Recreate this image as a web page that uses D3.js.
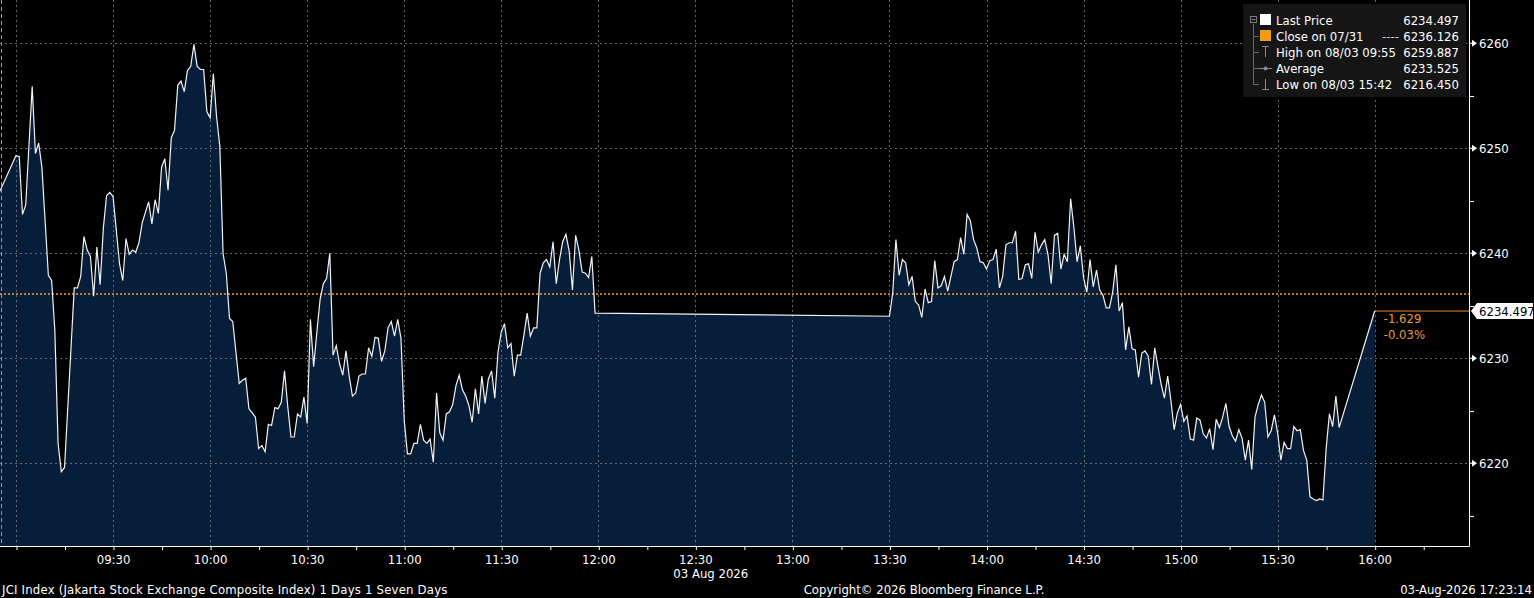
<!DOCTYPE html>
<html><head><meta charset="utf-8">
<script src="https://cdn.jsdelivr.net/npm/d3@7"></script>
<style>
html,body{margin:0;padding:0;background:#000;overflow:hidden}
svg{display:block}
text{font-family:"Liberation Sans Narrow","Arial Narrow","DejaVu Sans Condensed",sans-serif;font-size:13px;}
</style></head><body>
<svg id="c" width="1534" height="598"></svg>
<script>
// ---------- DATA ----------
const amTimes = ["08:55","09:00","09:01","09:02","09:03","09:05","09:06","09:07","09:08","09:10","09:11","09:12","09:13","09:14","09:15","09:18","09:19","09:20","09:21","09:22","09:23","09:24","09:25","09:26","09:27","09:28","09:29","09:30","09:31","09:32","09:33","09:34","09:35","09:36","09:37","09:38","09:39","09:41","09:42","09:43","09:44","09:45","09:46","09:47","09:48","09:49","09:50","09:51","09:52","09:53","09:54","09:55","09:56","09:57","09:58","09:59","10:00","10:01","10:02","10:03","10:04","10:05","10:06","10:07","10:09","10:10","10:11","10:12","10:13","10:14","10:15","10:16","10:17","10:18","10:19","10:20","10:21","10:22","10:23","10:24","10:25","10:26","10:27","10:28","10:29","10:30","10:31","10:32","10:33","10:34","10:35","10:36","10:37","10:38","10:39","10:40","10:41","10:42","10:43","10:44","10:45","10:46","10:47","10:48","10:49","10:50","10:51","10:52","10:53","10:54","10:55","10:56","10:57","10:58","10:59","11:00","11:01","11:02","11:03","11:04","11:05","11:06","11:07","11:08","11:09","11:10","11:11","11:12","11:13","11:14","11:15","11:16","11:17","11:18","11:19","11:20","11:21","11:22","11:23","11:24","11:25","11:26","11:27","11:28","11:29","11:30","11:31","11:32","11:33","11:34","11:35","11:36","11:37","11:38","11:39","11:40","11:41","11:42","11:43","11:44","11:45","11:46","11:47","11:48","11:49","11:50","11:51","11:52","11:53","11:54","11:55","11:56","11:57","11:58","11:59"];
const amPrices = [6245.9,6249.3,6249.2,6243.7,6244.6,6255.9,6249.5,6250.5,6248.2,6237.9,6237.4,6232.7,6221.9,6219.2,6219.6,6236.7,6236.7,6237.8,6241.6,6240.3,6239.7,6235.9,6240.6,6237.0,6242.4,6245.5,6245.8,6245.4,6242.2,6239.0,6237.4,6241.4,6239.9,6240.3,6240.1,6241.0,6242.9,6244.9,6242.8,6245.1,6243.8,6248.2,6249.0,6246.0,6251.0,6251.7,6256.0,6256.4,6255.4,6257.4,6257.8,6259.887,6257.8,6257.5,6257.5,6253.5,6252.9,6257.1,6253.0,6250.2,6240.0,6238.1,6233.8,6233.5,6227.6,6227.9,6228.1,6225.2,6224.8,6224.4,6221.4,6221.7,6221.1,6223.7,6223.6,6225.3,6225.2,6225.8,6228.8,6225.4,6222.5,6222.5,6224.7,6224.4,6226.3,6223.8,6233.7,6229.2,6232.5,6235.6,6237.1,6237.6,6240.0,6230.3,6231.2,6229.5,6228.4,6230.7,6228.3,6226.4,6226.7,6228.3,6228.5,6228.5,6231.0,6230.2,6232.0,6231.9,6229.7,6230.7,6232.9,6233.5,6232.1,6233.7,6231.9,6224.1,6220.9,6220.9,6221.9,6221.9,6223.7,6222.2,6221.9,6222.3,6220.1,6226.7,6222.9,6222.2,6224.7,6224.9,6225.6,6227.4,6228.4,6227.0,6226.4,6225.5,6223.9,6227.1,6224.7,6228.3,6225.7,6228.0,6228.8,6226.2,6230.6,6232.5,6233.3,6231.0,6231.4,6228.3,6230.3,6230.3,6232.2,6234.3,6232.1,6232.9,6232.9,6238.1,6239.1,6239.4,6238.7,6241.1,6237.1,6239.4,6241.1,6241.8,6240.2,6236.5,6241.7,6240.3,6238.2,6238.1,6237.7,6239.7,6234.3];
const pmTimes = ["13:30","13:31","13:32","13:33","13:34","13:35","13:36","13:37","13:38","13:39","13:40","13:41","13:42","13:43","13:44","13:45","13:46","13:47","13:48","13:49","13:50","13:51","13:52","13:53","13:54","13:55","13:56","13:57","13:58","13:59","14:00","14:01","14:02","14:03","14:04","14:05","14:06","14:07","14:08","14:09","14:10","14:11","14:12","14:13","14:14","14:15","14:16","14:17","14:18","14:19","14:20","14:21","14:22","14:23","14:24","14:25","14:26","14:27","14:28","14:29","14:30","14:31","14:32","14:33","14:34","14:35","14:36","14:37","14:38","14:39","14:40","14:41","14:42","14:43","14:44","14:45","14:46","14:47","14:48","14:49","14:50","14:51","14:52","14:53","14:54","14:55","14:56","14:57","14:58","14:59","15:00","15:01","15:02","15:03","15:04","15:05","15:06","15:07","15:08","15:09","15:10","15:11","15:12","15:13","15:14","15:15","15:16","15:17","15:18","15:19","15:20","15:21","15:22","15:23","15:24","15:25","15:26","15:27","15:28","15:29","15:30","15:31","15:32","15:33","15:34","15:35","15:36","15:37","15:38","15:39","15:40","15:41","15:42","15:43","15:44","15:45","15:46","15:47","15:48","15:49","16:00"];
const pmPrices = [6234.0,6236.2,6241.3,6237.9,6239.4,6239.1,6237.0,6237.8,6235.4,6235.1,6233.9,6236.6,6235.3,6235.4,6239.3,6236.7,6236.9,6237.8,6236.4,6237.8,6239.2,6239.4,6241.5,6239.9,6243.7,6243.1,6241.3,6240.5,6239.2,6239.1,6238.5,6239.3,6239.4,6240.4,6236.7,6237.8,6240.8,6241.0,6241.0,6242.1,6237.5,6237.6,6238.9,6239.0,6237.6,6242.0,6240.1,6240.8,6241.3,6239.9,6237.1,6241.7,6241.9,6238.5,6239.9,6239.2,6245.2,6242.5,6239.2,6240.7,6237.7,6236.3,6239.4,6236.8,6238.4,6236.5,6236.0,6234.8,6234.8,6236.3,6238.9,6234.5,6235.3,6230.8,6233.0,6230.9,6230.8,6228.2,6230.5,6230.7,6230.2,6227.5,6231.0,6229.2,6227.5,6226.2,6228.3,6226.0,6223.2,6224.8,6225.6,6224.0,6224.5,6222.3,6222.2,6224.3,6224.1,6222.8,6222.4,6223.3,6221.3,6224.2,6223.4,6224.4,6225.7,6223.5,6222.6,6222.1,6223.2,6222.4,6220.3,6222.2,6219.4,6224.4,6225.6,6226.5,6225.8,6222.5,6223.1,6224.6,6222.9,6220.3,6222.0,6221.4,6221.4,6223.5,6223.1,6223.2,6221.2,6220.3,6216.8,6216.6,6216.45,6216.6,6216.5,6221.4,6224.7,6223.5,6226.4,6223.4,6234.497];
const priceTicks = [6220, 6230, 6240, 6250, 6260];
const priceMinorTicks = [6215, 6225, 6235, 6245, 6255];
const timeTickLabels = ["09:30","10:00","10:30","11:00","11:30","12:00","12:30","13:00","13:30","14:00","14:30","15:00","15:30","16:00"];
const gridTimes = ["09:00","09:30","10:00","10:30","11:00","11:30","12:00","12:30","13:00","13:30","14:00","14:30","15:00","15:30","16:00"];
const minorTimes = ["09:15","09:45","10:15","10:45","11:15","11:45","12:15","12:45","13:15","13:45","14:15","14:45","15:15","15:45","16:15"];
const prevClose = 6236.126;
const lastPrice = 6234.497;
const legendLabels = ["Last Price","Close on 07/31","High on 08/03 09:55","Average","Low on 08/03 15:42"];
const legendValues = ["6234.497","6236.126","6259.887","6233.525","6216.450"];
const dateLabel = "03 Aug 2026";
const footerLeft = "JCI Index (Jakarta Stock Exchange Composite Index) 1 Days 1 Seven Days";
const footerMid = "Copyright\u00A9 2026 Bloomberg Finance L.P.";
const footerRight = "03-Aug-2026 17:23:14";

// ---------- CHART ----------
const svg = d3.select("#c");
const T = s => { const [h, m] = s.split(":").map(Number); return new Date(2026, 7, 3, h, m); };
const data = amTimes.map((t, i) => ({t: T(t), v: amPrices[i]}))
  .concat(pmTimes.map((t, i) => ({t: T(t), v: pmPrices[i]})));

const W = 1469, H = 546;
const x = d3.scaleTime().domain([new Date(2026,7,3,8,55,3), new Date(2026,7,3,16,29,9)]).range([0, W]);
const y = d3.scaleLinear().domain([6212.12, 6264.12]).range([H, 0]);

svg.append("rect").attr("width",1534).attr("height",598).attr("fill","#000");

// area
svg.append("path").datum(data)
  .attr("d", d3.area().x(d => x(d.t)).y0(H).y1(d => y(d.v)))
  .attr("fill", "#061e3a");

// grid
const grid = svg.append("g").attr("stroke","#7a7a7a").attr("stroke-width",1).attr("stroke-dasharray","2,3").attr("opacity",0.85);
gridTimes.forEach(t => {
  const xx = Math.round(x(T(t))) + 0.5;
  grid.append("line").attr("x1",xx).attr("x2",xx).attr("y1",0).attr("y2",H);
});
priceTicks.forEach(p => {
  const yy = Math.round(y(p)) + 0.5;
  grid.append("line").attr("x1",0).attr("x2",W).attr("y1",yy).attr("y2",yy);
});
svg.append("line").attr("x1",1.5).attr("x2",1.5).attr("y1",0).attr("y2",H)
  .attr("stroke","#9a9a9a").attr("stroke-dasharray","4,3");

// previous close dotted line
svg.append("line").attr("x1",0).attr("x2",W).attr("y1",y(prevClose)).attr("y2",y(prevClose))
  .attr("stroke","#f0a035").attr("stroke-width",1.6).attr("stroke-dasharray","2,2");

// price line
svg.append("path").datum(data)
  .attr("d", d3.line().x(d => x(d.t)).y(d => y(d.v)))
  .attr("fill","none").attr("stroke","#f2f2f2").attr("stroke-width",1.2);

// last price orange line + change
const lastX = x(T(pmTimes[pmTimes.length-1]));
svg.append("line").attr("x1",lastX).attr("x2",W).attr("y1",y(lastPrice)).attr("y2",y(lastPrice))
  .attr("stroke","#e8892b").attr("stroke-width",1);
const chg = lastPrice - prevClose;
svg.append("text").attr("x",lastX+9).attr("y",y(lastPrice)+12).attr("fill","#e39a3a").text(chg.toFixed(3));
svg.append("text").attr("x",lastX+9).attr("y",y(lastPrice)+28).attr("fill","#e39a3a").text((chg/prevClose*100).toFixed(2)+"%");

// axes lines
svg.append("line").attr("x1",W+0.5).attr("x2",W+0.5).attr("y1",0).attr("y2",H+0.5).attr("stroke","#fff");
svg.append("line").attr("x1",0).attr("x2",W+0.5).attr("y1",H+0.5).attr("y2",H+0.5).attr("stroke","#fff");

// bottom axis
const xb = d3.axisBottom(x)
  .tickValues(gridTimes.concat(minorTimes).map(T))
  .tickSize(4)
  .tickFormat(d => { const s = d3.timeFormat("%H:%M")(d); return timeTickLabels.includes(s) ? s : ""; });
const gx = svg.append("g").attr("transform",`translate(0,${H})`).call(xb);
gx.select(".domain").remove();
gx.selectAll(".tick line").attr("stroke","#fff").attr("transform","translate(0.5,0)");
gx.selectAll(".tick text").attr("fill","#fff").attr("font-size",13).attr("dy","0.85em")
  .style("font-family",'"Liberation Sans Narrow","Arial Narrow","DejaVu Sans Condensed",sans-serif');
svg.append("text").attr("x", x(T("12:30")) - 22).attr("y", 578).attr("fill","#fff").text(dateLabel);

// right axis
const gy = svg.append("g");
priceMinorTicks.forEach(p => {
  const yy = Math.round(y(p)) + 0.5;
  gy.append("line").attr("x1",W).attr("x2",W+5).attr("y1",yy).attr("y2",yy).attr("stroke","#fff");
});
priceTicks.forEach(p => {
  const yy = y(p);
  gy.append("path").attr("d",`M${W},${yy-0.6}L${W+3},${yy-0.6}L${W+3},${yy-3.5}L${W+8},${yy}L${W+3},${yy+3.5}L${W+3},${yy+0.6}L${W},${yy+0.6}Z`).attr("fill","#fff");
  gy.append("text").attr("x",W+10).attr("y",yy).attr("dy","0.35em").attr("fill","#fff").text(p);
});
// last price tag
const ly = y(lastPrice);
svg.append("path").attr("d",`M${W+2},${ly}L${W+8},${ly-8}L1533,${ly-8}L1533,${ly+8}L${W+8},${ly+8}Z`).attr("fill","#fff");
svg.append("text").attr("x",W+10).attr("y",ly).attr("dy","0.36em").attr("fill","#000").text(lastPrice.toFixed(3));

// legend
const lg = svg.append("g");
lg.append("rect").attr("x",1243).attr("y",4).attr("width",223).attr("height",93).attr("fill","#151515");
const rowY = i => 20 + i*16;
lg.append("line").attr("x1",1253.5).attr("x2",1253.5).attr("y1",24).attr("y2",rowY(4)).attr("stroke","#6a6a6a");
for (let i = 1; i < 5; i++) lg.append("line").attr("x1",1253).attr("x2",1259).attr("y1",rowY(i)+0.5).attr("y2",rowY(i)+0.5).attr("stroke","#6a6a6a");
lg.append("rect").attr("x",1250.5).attr("y",16.5).attr("width",6).attr("height",6).attr("fill","none").attr("stroke","#7a7a7a");
lg.append("line").attr("x1",1251.5).attr("x2",1255.5).attr("y1",19.5).attr("y2",19.5).attr("stroke","#7a7a7a");
lg.append("rect").attr("x",1260).attr("y",rowY(0)-6).attr("width",11).attr("height",11).attr("fill","#fff");
lg.append("rect").attr("x",1260).attr("y",rowY(1)-6).attr("width",11).attr("height",11).attr("fill","#f39c12");
// high icon
lg.append("path").attr("d",`M1262,${rowY(2)-5.5}H1269M1265.5,${rowY(2)-5.5}V${rowY(2)+5}`).attr("stroke","#8a8a8a").attr("fill","none");
// average icon
lg.append("line").attr("x1",1259).attr("x2",1272).attr("y1",rowY(3)+0.5).attr("y2",rowY(3)+0.5).attr("stroke","#8a8a8a");
lg.append("circle").attr("cx",1265.5).attr("cy",rowY(3)+0.5).attr("r",2).attr("fill","#8a8a8a");
// low icon
lg.append("path").attr("d",`M1265.5,${rowY(4)-5}V${rowY(4)+5.5}M1262,${rowY(4)+5.5}H1269`).attr("stroke","#8a8a8a").attr("fill","none");
legendLabels.forEach((s, i) => {
  lg.append("text").attr("x",1276).attr("y",rowY(i)).attr("dy","0.36em").attr("fill","#fff").text(s);
  lg.append("text").attr("x",1459).attr("y",rowY(i)).attr("dy","0.36em").attr("text-anchor","end").attr("fill","#fff").text(legendValues[i]);
});
lg.append("text").attr("x",1399).attr("y",rowY(1)).attr("dy","0.36em").attr("text-anchor","end").attr("fill","#cfcfcf").text("----");

// footer
svg.append("text").attr("x",2).attr("y",594).attr("fill","#fff").attr("letter-spacing",0.2).text(footerLeft);
svg.append("text").attr("x",924).attr("y",594).attr("text-anchor","middle").attr("fill","#fff").text(footerMid);
svg.append("text").attr("x",1532).attr("y",594).attr("text-anchor","end").attr("fill","#fff").text(footerRight);
</script>
</body></html>
